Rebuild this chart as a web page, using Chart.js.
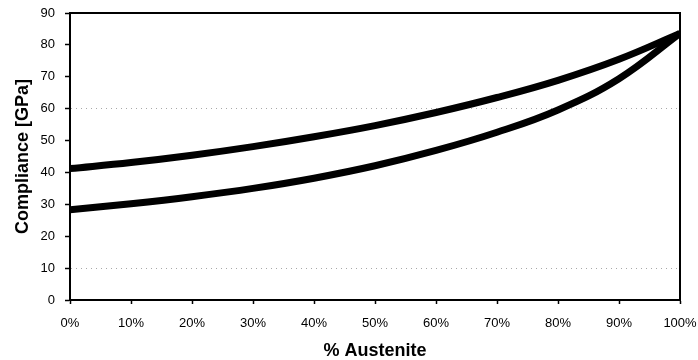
<!DOCTYPE html>
<html>
<head>
<meta charset="utf-8">
<script src="https://cdn.jsdelivr.net/npm/chart.js@4/dist/chart.umd.min.js"></script>
<style>
  html, body { margin: 0; padding: 0; background: #fff; }
  #wrap { width: 698px; height: 360px; }
</style>
</head>
<body>
<div id="wrap"><canvas id="c" width="698" height="360"></canvas></div>
<script>
// Austenite fraction (%) along the x axis
const austenite = [0, 10, 20, 30, 40, 50, 60, 70, 80, 90, 100];
// Upper bound compliance curve [GPa]
const upperCompliance = [41.2, 43.1, 45.4, 48.1, 51.2, 54.7, 58.8, 63.5, 68.9, 75.5, 83.6];
// Lower bound compliance curve [GPa]
const lowerCompliance = [28.3, 30.2, 32.4, 35.0, 38.2, 42.1, 46.9, 52.6, 59.6, 69.4, 83.6];
// Horizontal reference lines
const gridValues = [10, 60];

const FONT = '"Liberation Sans", Arial, sans-serif';

// Frame around the plot area
const frame = {
  id: 'frame',
  afterDatasetsDraw(chart) {
    const { ctx, chartArea: a } = chart;
    ctx.save();
    ctx.strokeStyle = '#000';
    ctx.lineWidth = 2;
    ctx.strokeRect(a.left, a.top, a.right - a.left, a.bottom - a.top);
    ctx.restore();
  }
};

new Chart(document.getElementById('c'), {
  type: 'line',
  data: {
    labels: austenite,
    datasets: [
      { data: upperCompliance, borderColor: '#000', borderWidth: 7, pointRadius: 0, tension: 0.4 },
      { data: lowerCompliance, borderColor: '#000', borderWidth: 7, pointRadius: 0, tension: 0.4 }
    ]
  },
  options: {
    responsive: false,
    animation: false,
    layout: { padding: { top: 13, right: 18, left: 0, bottom: 0 } },
    plugins: { legend: { display: false }, tooltip: { enabled: false } },
    scales: {
      x: {
        type: 'linear',
        min: 0, max: 100,
        afterFit(s) { s.height = 60; s.paddingLeft = 0; s.paddingRight = 0; },
        ticks: {
          stepSize: 10,
          color: '#000',
          font: { family: FONT, size: 13 },
          padding: 12,
          maxRotation: 0,
          callback: v => v + '%'
        },
        grid: { drawOnChartArea: false, tickLength: 4, tickColor: '#000', tickWidth: 1.5 },
        border: { color: '#000', width: 2 },
        title: { display: true, text: '% Austenite', color: '#000', font: { family: FONT, size: 18, weight: 'bold' }, padding: { top: 0, bottom: -2 } }
      },
      y: {
        min: 0, max: 90,
        afterFit(s) { s.width = 70; s.paddingTop = 0; s.paddingBottom = 0; },
        ticks: { stepSize: 10, color: '#000', font: { family: FONT, size: 13 }, padding: 10 },
        grid: {
          color: c => gridValues.includes(c.tick.value) ? '#a8a8a8' : 'rgba(0,0,0,0)',
          lineWidth: 1,
          tickLength: 5,
          tickColor: '#000',
          tickWidth: 1.5
        },
        border: { color: '#000', width: 2, dash: [1, 4] },
        title: { display: true, text: 'Compliance [GPa]', color: '#000', font: { family: FONT, size: 18, weight: 'bold' }, padding: { top: 12, bottom: 0 } }
      }
    }
  },
  plugins: [frame]
});
</script>
</body>
</html>
